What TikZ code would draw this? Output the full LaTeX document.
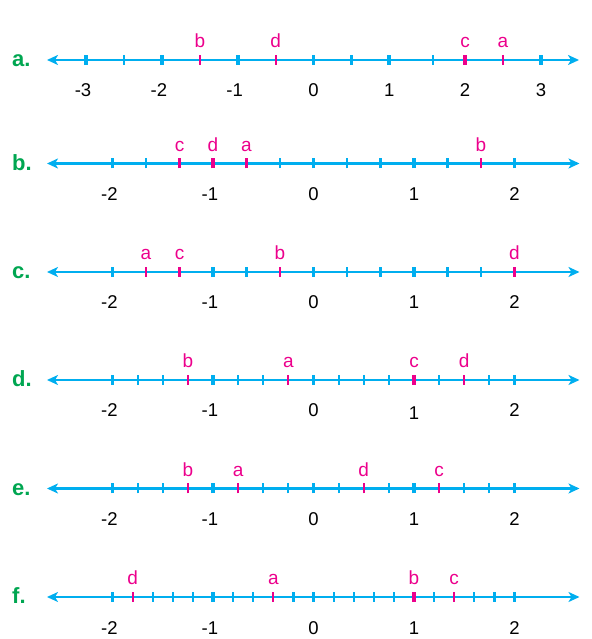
\documentclass[tikz,border=0pt]{standalone}
\usepackage{fontspec}
\setmainfont{Liberation Sans}
\usepackage{tikz}
\usetikzlibrary{arrows.meta}
\definecolor{lineblue}{RGB}{0,174,239}
\definecolor{markpink}{RGB}{236,0,140}
\definecolor{rowgreen}{RGB}{0,166,81}

\begin{document}
\begin{tikzpicture}[x=1pt,y=1pt,>={Stealth[length=11pt,width=10pt,inset=3pt]},
    numline/.style={<->,draw=lineblue,line width=2.2pt},
    majortick/.style={draw=lineblue,line width=3.8pt},
    minortick/.style={draw=lineblue,line width=2.2pt},
    majormark/.style={draw=markpink,line width=3.8pt},
    minormark/.style={draw=markpink,line width=2.2pt},
    ptlabel/.style={anchor=base,inner sep=0pt,text=markpink,font=\fontsize{19}{22}\selectfont},
    numlabel/.style={anchor=base,inner sep=0pt,text=black,font=\fontsize{18.5}{22}\selectfont},
    rowlabel/.style={anchor=base west,inner sep=0pt,text=rowgreen,font=\fontsize{22}{26}\selectfont\bfseries}]
    \useasboundingbox (0,0) rectangle (591,639);

    % row labels
    \node[rowlabel] (rowa) at (12,572) {a.};
    \node[rowlabel] (rowb) at (12,468.5) {b.};
    \node[rowlabel] (rowc) at (12,360) {c.};
    \node[rowlabel] (rowd) at (12,252) {d.};
    \node[rowlabel] (rowe) at (12,143.5) {e.};
    \node[rowlabel] (rowf) at (12,35) {f.};

    % line a: halves
    \begin{scope}[shift={(313.5,579)},x=75.8pt]
        \coordinate (a-l) at (-266.5pt,0);
        \coordinate (a-r) at (265.5pt,0);
        \draw[numline] (a-l) -- (a-r);
        \foreach \t in {-2.5,0.5,1.58} \draw[minortick] (\t,-5) -- (\t,5);
        \foreach \t in {-3,-2,-1,0,1,3} \draw[majortick] (\t,-5) -- (\t,5);
        \foreach \t in {-1.5,-0.5,2.5} \draw[minormark] (\t,-5) -- (\t,5);
        \draw[majormark] (2,-5) -- (2,5);
        \node[ptlabel] (a-pb) at (-1.5,12) {b};
        \node[ptlabel] (a-pd) at (-0.5,12) {d};
        \node[ptlabel] (a-pc) at (2,12) {c};
        \node[ptlabel] (a-pa) at (2.5,12) {a};
        \node[numlabel] (a-nm3) at (-3,-37) {\llap{-}3};
        \node[numlabel] (a-nm2) at (-2,-37) {\llap{-}2};
        \node[numlabel] (a-nm1) at (-1,-37) {\llap{-}1};
        \node[numlabel] (a-n0) at (0,-37) {0};
        \node[numlabel] (a-n1) at (1,-37) {1};
        \node[numlabel] (a-n2) at (2,-37) {2};
        \node[numlabel] (a-n3) at (3,-37) {3};
    \end{scope}

    % line b: thirds
    \begin{scope}[shift={(313.5,475.5)},x=100.5pt]
        \coordinate (b-l) at (-266.5pt,0);
        \coordinate (b-r) at (266pt,0);
        \draw[numline] (b-l) -- (b-r);
        \foreach \t in {-5/3,-1/3,1/3,2/3,4/3} \draw[minortick] (\t,-5) -- (\t,5);
        \foreach \t in {-2,0,1,2} \draw[majortick] (\t,-5) -- (\t,5);
        \foreach \t in {-4/3,-2/3,5/3} \draw[minormark] (\t,-5) -- (\t,5);
        \draw[majormark] (-1,-5) -- (-1,5);
        \node[ptlabel] (b-pc) at (-4/3,12) {c};
        \node[ptlabel] (b-pd) at (-1,12) {d};
        \node[ptlabel] (b-pa) at (-2/3,12) {a};
        \node[ptlabel] (b-pb) at (5/3,12) {b};
        \node[numlabel] (b-nm2) at (-2,-37) {\llap{-}2};
        \node[numlabel] (b-nm1) at (-1,-37) {\llap{-}1};
        \node[numlabel] (b-n0) at (0,-37) {0};
        \node[numlabel] (b-n1) at (1,-37) {1};
        \node[numlabel] (b-n2) at (2,-37) {2};
    \end{scope}

    % line c: thirds
    \begin{scope}[shift={(313.5,367)},x=100.5pt]
        \coordinate (c-l) at (-266.5pt,0);
        \coordinate (c-r) at (266pt,0);
        \draw[numline] (c-l) -- (c-r);
        \foreach \t in {-2/3,1/3,2/3,4/3,5/3} \draw[minortick] (\t,-5) -- (\t,5);
        \foreach \t in {-2,-1,0,1} \draw[majortick] (\t,-5) -- (\t,5);
        \foreach \t in {-5/3,-4/3,-1/3} \draw[minormark] (\t,-5) -- (\t,5);
        \draw[majormark] (2,-5) -- (2,5);
        \node[ptlabel] (c-pa) at (-5/3,12) {a};
        \node[ptlabel] (c-pc) at (-4/3,12) {c};
        \node[ptlabel] (c-pb) at (-1/3,12) {b};
        \node[ptlabel] (c-pd) at (2,12) {d};
        \node[numlabel] (c-nm2) at (-2,-37) {\llap{-}2};
        \node[numlabel] (c-nm1) at (-1,-37) {\llap{-}1};
        \node[numlabel] (c-n0) at (0,-37) {0};
        \node[numlabel] (c-n1) at (1,-37) {1};
        \node[numlabel] (c-n2) at (2,-37) {2};
    \end{scope}

    % line d: quarters
    \begin{scope}[shift={(313.5,259)},x=100.5pt]
        \coordinate (d-l) at (-266.5pt,0);
        \coordinate (d-r) at (266pt,0);
        \draw[numline] (d-l) -- (d-r);
        \foreach \t in {-1.75,-1.5,-0.75,-0.5,0.25,0.5,0.75,1.25,1.75} \draw[minortick] (\t,-5) -- (\t,5);
        \foreach \t in {-2,-1,0,2} \draw[majortick] (\t,-5) -- (\t,5);
        \foreach \t in {-1.25,-0.25,1.5} \draw[minormark] (\t,-5) -- (\t,5);
        \draw[majormark] (1,-5) -- (1,5);
        \node[ptlabel] (d-pb) at (-1.25,12) {b};
        \node[ptlabel] (d-pa) at (-0.25,12) {a};
        \node[ptlabel] (d-pc) at (1,12) {c};
        \node[ptlabel] (d-pd) at (1.5,12) {d};
        \node[numlabel] (d-nm2) at (-2,-37) {\llap{-}2};
        \node[numlabel] (d-nm1) at (-1,-37) {\llap{-}1};
        \node[numlabel] (d-n0) at (0,-37) {0};
        \node[numlabel] (d-n1) at (1,-39.5) {1};
        \node[numlabel] (d-n2) at (2,-37) {2};
    \end{scope}

    % line e: quarters
    \begin{scope}[shift={(313.5,150.5)},x=100.5pt]
        \coordinate (e-l) at (-266.5pt,0);
        \coordinate (e-r) at (266pt,0);
        \draw[numline] (e-l) -- (e-r);
        \foreach \t in {-1.75,-1.5,-0.5,-0.25,0.25,0.75,1.5,1.75} \draw[minortick] (\t,-5) -- (\t,5);
        \foreach \t in {-2,-1,0,1,2} \draw[majortick] (\t,-5) -- (\t,5);
        \foreach \t in {-1.25,-0.75,0.5,1.25} \draw[minormark] (\t,-5) -- (\t,5);
        \node[ptlabel] (e-pb) at (-1.25,12) {b};
        \node[ptlabel] (e-pa) at (-0.75,12) {a};
        \node[ptlabel] (e-pd) at (0.5,12) {d};
        \node[ptlabel] (e-pc) at (1.25,12) {c};
        \node[numlabel] (e-nm2) at (-2,-37) {\llap{-}2};
        \node[numlabel] (e-nm1) at (-1,-37) {\llap{-}1};
        \node[numlabel] (e-n0) at (0,-37) {0};
        \node[numlabel] (e-n1) at (1,-37) {1};
        \node[numlabel] (e-n2) at (2,-37) {2};
    \end{scope}

    % line f: fifths
    \begin{scope}[shift={(313.5,42)},x=100.5pt]
        \coordinate (f-l) at (-266.5pt,0);
        \coordinate (f-r) at (266pt,0);
        \draw[numline] (f-l) -- (f-r);
        \foreach \t in {-1.6,-1.4,-1.2,-0.8,-0.6,-0.2,0.2,0.4,0.6,0.8,1.2,1.6,1.8} \draw[minortick] (\t,-5) -- (\t,5);
        \foreach \t in {-2,-1,0,2} \draw[majortick] (\t,-5) -- (\t,5);
        \foreach \t in {-1.8,-0.4,1.4} \draw[minormark] (\t,-5) -- (\t,5);
        \draw[majormark] (1,-5) -- (1,5);
        \node[ptlabel] (f-pd) at (-1.8,12) {d};
        \node[ptlabel] (f-pa) at (-0.4,12) {a};
        \node[ptlabel] (f-pb) at (1,12) {b};
        \node[ptlabel] (f-pc) at (1.4,12) {c};
        \node[numlabel] (f-nm2) at (-2,-37) {\llap{-}2};
        \node[numlabel] (f-nm1) at (-1,-37) {\llap{-}1};
        \node[numlabel] (f-n0) at (0,-37) {0};
        \node[numlabel] (f-n1) at (1,-37) {1};
        \node[numlabel] (f-n2) at (2,-37) {2};
    \end{scope}
\end{tikzpicture}
\end{document}
